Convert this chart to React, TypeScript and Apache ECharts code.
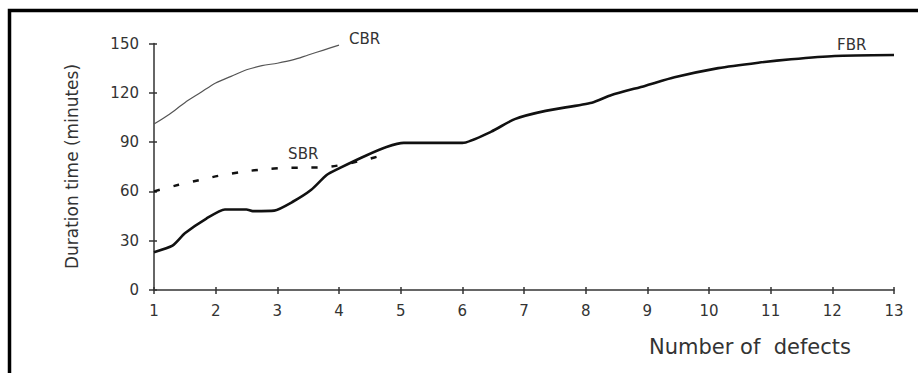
import React, { useEffect, useRef } from "react";
import * as echarts from "echarts";

// Number of defects (x) vs duration time in minutes (y)
const xTickLabels = ["1", "2", "3", "4", "5", "6", "7", "8", "9", "10", "11", "12", "13"];
const yTickLabels = ["0", "30", "60", "90", "120", "150"];

const cbrX = [1, 1.25, 1.5, 1.75, 2, 2.25, 2.5, 2.75, 3, 3.25, 3.5, 3.75, 4];
const cbrY = [101, 107, 114, 120, 126, 130, 134, 136.5, 138, 140, 143, 146, 149];

const sbrX = [1, 1.4, 1.75, 2.05, 2.45, 2.8, 3.1, 3.45, 3.85, 4.4, 4.8];
const sbrY = [60, 64, 67, 69.5, 72, 73.5, 74.3, 74.5, 75, 79, 83];

const fbrX = [1, 1.3, 1.5, 1.85, 2.15, 2.5, 2.6, 2.95, 3.25, 3.55, 3.8, 4.0, 4.45, 4.77, 5.05, 6.0, 6.47, 6.85, 7.35, 8.1, 8.42, 8.96, 9.44, 10.15, 10.8, 11.33, 12.04, 13];
const fbrY = [23, 27, 34.5, 43.5, 49, 49, 48, 48.3, 53.7, 61, 70, 74, 82, 87, 89.5, 89.5, 96.4, 104, 109, 114, 118.7, 124.2, 129.4, 135, 138.3, 140.4, 142.4, 143];

const seriesNames = ["CBR", "SBR", "FBR"];
const xTitle = "Number of  defects";
const yTitle = "Duration time (minutes)";

const pairs = (xs: number[], ys: number[]) => xs.map((x, i) => [x, ys[i]]);

export default function App() {
  const ref = useRef<HTMLDivElement>(null);
  useEffect(() => {
    if (!ref.current) return;
    const chart = echarts.init(ref.current, null, { renderer: "svg" });
    const axisColor = "#333";
    const font = "DejaVu Sans";
    chart.setOption({
      animation: false,
      grid: { left: 154, right: 24, top: 43.5, bottom: 83, containLabel: false },
      xAxis: [
        {
          type: "value",
          min: 1,
          max: 13,
          interval: 1,
          axisLine: { show: true, onZero: false, lineStyle: { color: axisColor, width: 1.5 } },
          axisTick: { show: true, length: 4, lineStyle: { color: axisColor, width: 1.5 } },
          axisLabel: {
            margin: 13,
            fontSize: 15,
            fontFamily: font,
            color: axisColor,
            formatter: (v: number) => xTickLabels[Math.round(v) - 1] ?? "",
          },
          splitLine: { show: false },
        },
        {
          type: "value",
          position: "bottom",
          offset: 0,
          min: 1,
          max: 13,
          interval: 1,
          axisLine: { show: false },
          axisTick: { show: true, inside: true, length: 3, lineStyle: { color: axisColor, width: 1.5 } },
          axisLabel: { show: false },
          splitLine: { show: false },
        },
      ],
      yAxis: [
        {
          type: "value",
          min: 0,
          max: 150,
          interval: 30,
          axisLine: { show: true, onZero: false, lineStyle: { color: axisColor, width: 1.5 } },
          axisTick: { show: true, length: 5, lineStyle: { color: axisColor, width: 1.5 } },
          axisLabel: {
            margin: 15,
            fontSize: 15,
            fontFamily: font,
            color: axisColor,
            formatter: (v: number) => yTickLabels[Math.round(v / 30)] ?? "",
          },
          splitLine: { show: false },
        },
        {
          type: "value",
          position: "left",
          offset: 0,
          min: 0,
          max: 150,
          interval: 30,
          axisLine: { show: false },
          axisTick: { show: true, inside: true, length: 3, lineStyle: { color: axisColor, width: 1.5 } },
          axisLabel: { show: false },
          splitLine: { show: false },
        },
      ],
      series: [
        {
          name: seriesNames[0],
          type: "line",
          data: pairs(cbrX, cbrY),
          showSymbol: false,
          smooth: 0.3,
          lineStyle: { color: "#555", width: 1.2 },
          endLabel: {
            show: true,
            formatter: seriesNames[0],
            distance: 10,
            offset: [0, -6],
            fontSize: 15,
            fontFamily: font,
            color: axisColor,
          },
        },
        {
          name: seriesNames[1],
          type: "line",
          data: pairs(sbrX, sbrY),
          showSymbol: false,
          smooth: 0.3,
          lineStyle: { color: "#111", width: 2.5, type: [6, 14] },
          markPoint: {
            symbol: "circle",
            symbolSize: 0,
            label: {
              show: true,
              position: "inside",
              formatter: seriesNames[1],
              fontSize: 15,
              fontFamily: font,
              color: axisColor,
            },
            data: [{ coord: [3.42, 82.8] }],
          },
        },
        {
          name: seriesNames[2],
          type: "line",
          data: pairs(fbrX, fbrY),
          showSymbol: false,
          smooth: 0.2,
          lineStyle: { color: "#111", width: 2.6 },
          endLabel: {
            show: true,
            formatter: seriesNames[2],
            distance: 5,
            offset: [-62, -10],
            fontSize: 15,
            fontFamily: font,
            color: axisColor,
          },
        },
      ],
      graphic: [
        {
          type: "polyline",
          shape: { points: [[9.5, 373], [9.5, 10.5], [918, 10.5]] },
          style: { stroke: "#000", lineWidth: 3.5, fill: "none" },
          silent: true,
        },
        {
          type: "text",
          x: 750,
          y: 347,
          style: {
            text: xTitle,
            fontSize: 21,
            fontFamily: font,
            fill: axisColor,
            align: "center",
            verticalAlign: "middle",
          },
        },
        {
          type: "text",
          x: 72,
          y: 166.5,
          rotation: Math.PI / 2,
          style: {
            text: yTitle,
            fontSize: 17,
            fontFamily: font,
            fill: axisColor,
            align: "center",
            verticalAlign: "middle",
          },
        },
      ],
    });
    return () => chart.dispose();
  }, []);
  return (
    <div
      ref={ref}
      style={{ position: "fixed", left: 0, top: 0, width: 918, height: 373, background: "#fff" }}
    />
  );
}
